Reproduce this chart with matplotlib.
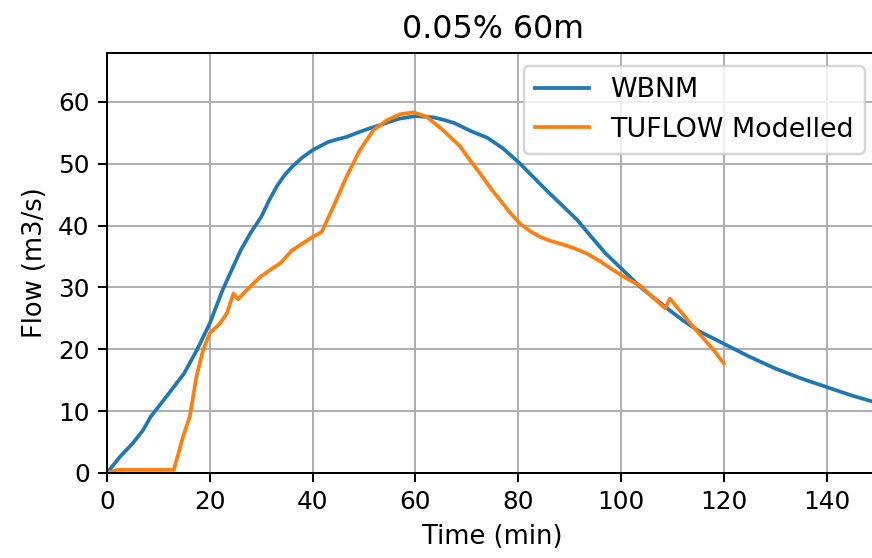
import matplotlib

matplotlib.use("Agg")

import matplotlib.pyplot as plt


WIDTH = 872
HEIGHT = 558
DPI = 178

TITLE = "0.05% 60m"

wbnm_time = [0, 2.5, 5, 7, 8.5, 11.5, 15, 17.5, 20, 22.5, 26, 28, 30, 31.5,
             33, 34.5, 36, 38, 40, 43, 45, 46.5, 49, 51, 53, 55, 57, 60, 63.5,
             65.5, 67.5, 69, 71, 74, 77, 80, 83, 85.5, 88.5, 91.5, 94, 97, 100,
             104, 109, 112, 115, 120, 125, 130, 135, 140, 145, 150]
wbnm_flow = [0, 2.6, 4.8, 6.9, 9.1, 12.3, 16.1, 19.9, 24.2, 29.6, 36, 38.9,
             41.4, 44.0, 46.3, 48.1, 49.5, 51.0, 52.2, 53.5, 54.0, 54.3, 55.1,
             55.7, 56.2, 56.8, 57.3, 57.7, 57.5, 57.1, 56.6, 56.0, 55.2, 54.2,
             52.5, 50.3, 47.8, 45.7, 43.3, 40.9, 38.4, 35.5, 33.1, 29.9, 26.6,
             24.7, 23.0, 20.9, 18.8, 16.9, 15.3, 13.9, 12.5, 11.3]

tuflow_time = [0, 2, 13, 14.8, 16.1, 17.4, 18.7, 20, 22, 23.3, 24.6, 25.5,
               27.2, 29.8, 31.7, 33.7, 36, 39.5, 41.8, 44, 46.6, 49.2, 51.8,
               54.4, 57, 59.6, 62.2, 65.4, 68.7, 70.5, 72.6, 74.5, 76.5, 78.5,
               80.4, 82.3, 84.2, 86, 88.1, 90.7, 93.3, 96, 98.5, 101, 103.7,
               108.6, 109.5, 114.1, 118, 120]
tuflow_flow = [0, 0.5, 0.5, 5.9, 9.1, 15.6, 19.9, 22.6, 24.2, 25.8, 29.0, 28.1,
               29.6, 31.7, 32.8, 33.9, 36, 37.9, 39, 43, 47.9, 52.2, 55.4, 57,
               58, 58.3, 57.6, 55.4, 52.8, 50.7, 48.4, 46.2, 44.1, 42.0, 40.3,
               39.1, 38.2, 37.6, 37.1, 36.4, 35.5, 34.2, 32.8, 31.5, 30.3,
               26.6, 28.2, 23.6, 19.9, 17.7]


def main():
    fig = plt.figure(figsize=(WIDTH / DPI, HEIGHT / DPI), dpi=DPI)
    # Axes runs slightly past the right edge, as in the cropped original.
    ax = fig.add_axes([107 / WIDTH, 1 - 473 / HEIGHT, 771 / WIDTH, 420 / HEIGHT])

    ax.plot(wbnm_time, wbnm_flow, color="#1f77b4", label="WBNM")
    ax.plot(tuflow_time, tuflow_flow, color="#ff7f0e", label="TUFLOW Modelled")

    ax.set_xlim(0, 150)
    ax.set_ylim(0, 67.9)
    ax.set_xticks([0, 20, 40, 60, 80, 100, 120, 140])
    ax.set_yticks([0, 10, 20, 30, 40, 50, 60])
    ax.grid(True)

    ax.set_title(TITLE, fontsize=12.8)
    ax.set_xlabel("Time (min)", fontsize=10.4)
    ax.set_ylabel("Flow (m3/s)", fontsize=10.4)
    ax.legend(loc="upper right", fontsize=10.9)

    fig.savefig("out.png", dpi=DPI)
    plt.close(fig)


if __name__ == "__main__":
    main()
